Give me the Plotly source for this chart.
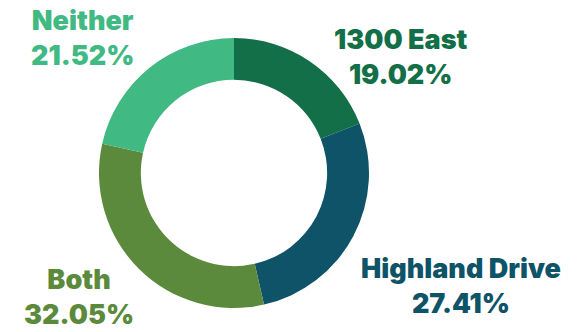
import plotly.graph_objects as go

labels = ["1300 East", "Highland Drive", "Both", "Neither"]
values = [19.02, 27.41, 32.05, 21.52]
colors = ["#136f47", "#0e5368", "#5c8a3c", "#40b983"]

W, H = 586, 332
cx, cy, R = 234, 173, 135

fig = go.Figure(go.Pie(
    labels=labels, values=values, sort=False, direction="clockwise", rotation=0,
    hole=0.69, marker=dict(colors=colors, line=dict(width=0)),
    textinfo="none", hoverinfo="label+percent", showlegend=False,
    domain=dict(x=[(cx - R) / W, (cx + R) / W], y=[(H - cy - R) / H, (H - cy + R) / H]),
))

# label positions (pixel centers) for each slice
label_pos = [(401, 57), (461, 286), (79, 297), (82, 38)]
for lab, val, col, (px, py) in zip(labels, values, colors, label_pos):
    fig.add_annotation(
        x=px / W, y=1 - py / H, xref="paper", yref="paper",
        text=f"{lab}<br>{val:.2f}%", showarrow=False,
        font=dict(family="Inter, Open Sans, sans-serif", size=27, color=col, weight=900),
        align="center", xanchor="center", yanchor="middle",
    )

fig.update_layout(
    width=W, height=H, margin=dict(l=0, r=0, t=0, b=0),
    paper_bgcolor="white", plot_bgcolor="white",
)
fig.write_html("out.html")
